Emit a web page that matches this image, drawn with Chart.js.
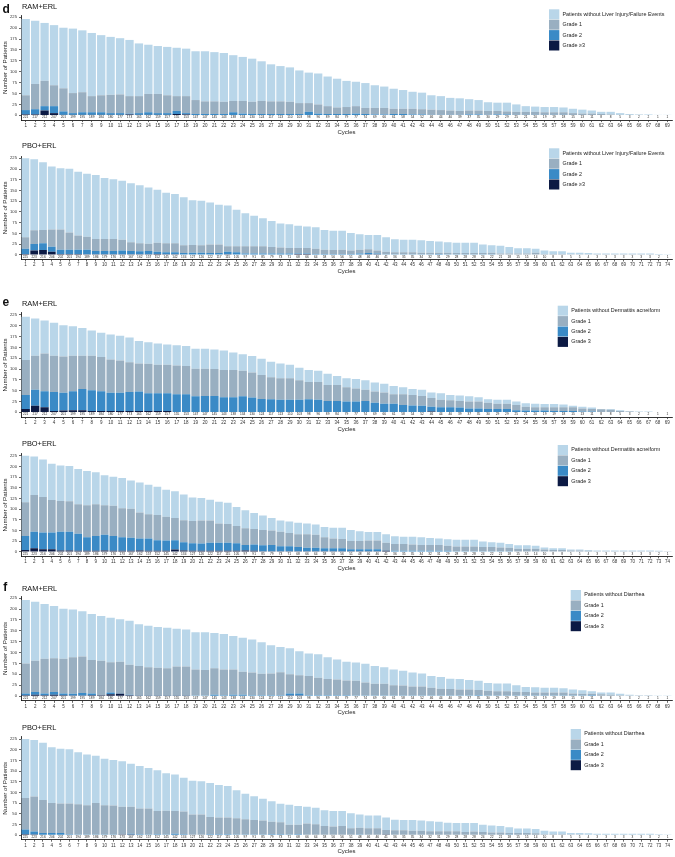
<!DOCTYPE html>
<html>
<head>
<meta charset="utf-8">
<script src="https://cdn.jsdelivr.net/npm/chart.js@4.4.1/dist/chart.umd.min.js"></script>
<style>
  html, body { margin: 0; padding: 0; background: #fff; }
  body { position: relative; width: 675px; height: 857px; overflow: hidden; }
  canvas { position: absolute; left: 0; }
</style>
</head>
<body>
<canvas id="c1"></canvas>
<canvas id="c2"></canvas>
<canvas id="c3"></canvas>
<canvas id="c4"></canvas>
<canvas id="c5"></canvas>
<canvas id="c6"></canvas>
<script>
// cycles on the x axis
const cyclesRam = Array.from({ length: 69 }, (_, i) => String(i + 1));
const cyclesPbo = Array.from({ length: 74 }, (_, i) => String(i + 1));

// patients at risk per cycle (numbers printed under the bars)
const nRam = [221,217,212,207,201,199,195,189,184,180, 177,173,165,162,159,157,155,153,147,147,
  145,143,138,134,130,124,117,113,110,103, 98,96,89,84,79,77,74,69,66,61,
  58,54,52,46,44,40,39,37,35,30, 29,29,25,21,20,19,19,18,15,13, 11,8,8,5,3,2,2,1,1];
const nPbo = [225,223,216,206,202,201,194,189,186,179, 176,173,167,162,157,152,145,142,134,127,
  126,122,117,115,105,97,91,85,79,73, 71,68,66,64,58,56,56,51,48,46,
  46,41,36,35,35,34,32,31,29,28, 28,28,24,22,21,18,15,15,14,10,
  8,8,5,5,4,3,3,3,3,3, 3,3,2,1];

// d: liver injury / failure events
const liverRamG1 = [34,58,58,48,53,46,46,37,39,42, 43,40,39,42,44,41,34,39,32,29,
  29,28,26,29,28,30,29,29,28,25, 20,21,18,15,16,17,14,15,15,12,
  12,13,12,12,11,10,9,9,9,9, 8,7,7,7,7,6,6,6,5,4, 4,3,2,1,1,1,0,0,0];
const liverRamG2 = [10,12,10,16,8,4,6,6,6,4, 4,2,4,6,4,4,7,3,3,3,
  3,3,7,4,3,3,3,3,3,3, 8,4,3,3,3,4,3,2,2,3,
  3,2,2,1,1,1,1,2,2,1, 2,2,1,1,1,1,1,1,0,0, 0,0,0,0,0,0,0,0,0];
const liverRamG3 = [2,2,11,5,1,1,1,1,1,1, 1,2,1,1,1,1,3,2,0,0,
  0,0,0,0,0,0,0,0,0,0, 0,0,0,0,0,0,0,0,0,0,
  0,0,0,0,0,0,0,0,0,0, 0,0,0,0,0,0,0,0,0,0, 0,0,0,0,0,0,0,0,0];
const liverPboG1 = [27,32,31,40,47,40,33,30,28,28, 28,25,20,19,17,21,21,21,18,18,
  17,20,20,13,14,17,17,17,15,14, 13,13,13,12,10,9,10,8,9,9,
  7,6,5,5,5,4,4,3,4,3, 3,3,3,4,3,3,3,3,5,2,
  2,2,1,1,1,1,1,1,1,1, 1,1,0,0];
const liverPboG2 = [12,15,16,12,10,10,10,11,8,8, 8,9,8,7,8,5,5,5,4,5,
  5,4,4,6,6,3,3,3,3,3, 3,1,1,2,2,2,2,2,3,3,
  2,1,1,1,1,1,1,2,1,1, 1,1,1,1,0,0,0,0,0,0,
  0,0,0,0,0,0,0,0,0,0, 0,0,0,0];
const liverPboG3 = [2,10,11,7,2,2,2,1,1,1, 1,1,1,1,1,2,1,1,0,0,
  0,0,0,1,0,0,0,0,0,0, 0,2,2,0,0,0,0,0,0,1,
  1,0,0,0,0,0,0,0,0,0, 0,0,0,0,0,0,0,0,0,0,
  0,0,0,0,0,0,0,0,0,0, 0,0,0,0];

// e: dermatitis acneiform
const dermRamG1 = [81,79,87,84,84,82,77,80,79,77, 75,69,65,68,66,66,66,65,64,63,
  62,63,63,59,58,55,51,50,50,45, 40,41,37,37,33,30,26,26,26,22,
  25,24,23,20,17,16,15,16,16,14, 12,12,12,9,8,8,9,9,9,7, 6,6,5,3,2,1,1,0,0];
const dermRamG2 = [32,37,37,44,41,44,49,48,46,42, 42,44,45,41,41,41,42,42,37,38,
  38,35,35,37,34,31,30,29,29,29, 30,29,26,26,25,25,25,22,20,20,
  17,16,15,11,12,12,11,9,9,8, 8,8,5,4,4,4,3,3,3,2, 2,1,1,0,0,0,0,0,0];
const dermRamG3 = [8,15,12,3,4,5,5,3,3,3, 3,3,3,3,3,3,0,0,0,0,
  0,0,0,0,0,0,0,0,0,0, 0,0,0,0,0,0,1,0,0,0,
  0,0,0,2,0,0,0,0,0,0, 0,0,0,0,0,0,0,0,0,0, 0,0,0,0,0,0,0,0,0];
const dermPboG1 = [79,86,83,76,72,71,69,75,74,69, 71,68,68,61,57,59,56,52,52,52,
  54,52,45,44,40,39,36,36,34,34, 31,30,32,31,26,23,22,19,19,20,
  20,18,16,16,15,14,14,14,12,11, 11,11,10,10,9,8,7,7,7,5,
  4,4,3,3,2,1,1,1,1,1, 1,1,1,1];
const dermPboG2 = [33,39,39,39,44,44,40,32,35,37, 35,32,31,28,29,25,24,22,19,18,
  17,19,19,19,18,13,15,14,15,12, 12,10,8,8,7,7,7,5,5,5,
  5,1,2,2,2,2,2,2,2,1, 1,1,1,1,1,1,0,0,0,0,
  0,0,0,0,0,0,0,0,0,0, 0,0,0,0];
const dermPboG3 = [4,8,6,6,3,3,2,2,2,3, 2,2,2,3,2,2,2,5,3,2,
  2,2,2,2,2,3,2,1,1,1, 1,1,1,1,1,1,1,1,1,1,
  1,2,0,0,0,0,0,0,0,0, 0,0,0,0,0,0,0,0,0,0,
  0,0,0,0,0,0,0,0,0,0, 0,0,0,0];

// f: diarrhea
const diarRamG1 = [69,72,80,78,80,84,84,77,79,70, 73,69,67,64,63,62,66,66,60,59,
  61,59,58,53,52,49,50,53,44,42, 44,40,37,36,34,34,30,27,27,24,
  23,21,21,18,16,15,14,14,12,11, 10,10,9,8,7,7,7,7,5,4, 3,4,3,2,1,1,1,0,0];
const diarRamG2 = [4,6,4,6,4,4,6,4,0,4, 1,1,1,1,1,1,1,1,1,1,
  3,2,3,3,2,2,2,2,5,5, 2,2,2,2,2,1,1,1,1,1,
  1,1,1,1,1,1,1,1,2,1, 1,1,1,1,1,1,1,1,1,1, 2,0,0,0,0,0,0,0,0];
const diarRamG3 = [2,3,2,3,2,1,1,2,2,4, 5,2,1,1,1,1,1,1,0,0,
  0,0,0,0,0,0,0,0,1,1, 0,0,0,0,0,0,0,0,0,0,
  0,0,0,0,0,0,0,0,0,0, 0,0,0,0,0,0,0,0,0,0, 0,0,0,0,0,0,0,0,0];
const diarPboG1 = [74,82,77,70,69,72,71,69,74,69, 68,65,63,60,61,54,56,53,53,48,
  48,40,39,39,38,36,34,33,29,28, 23,22,27,25,21,20,21,16,16,16,
  16,11,11,11,10,10,9,9,9,9, 7,8,7,6,6,4,5,5,4,2,
  2,2,1,1,0,0,0,0,0,0, 0,0,0,0];
const diarPboG2 = [11,7,5,5,5,2,1,1,1,1, 1,0,2,2,1,2,1,3,2,0,
  0,2,2,2,1,1,1,1,2,2, 1,2,0,0,0,0,0,0,1,0,
  0,0,0,0,0,0,0,0,0,0, 0,0,0,0,0,1,0,0,0,0,
  0,0,0,0,0,0,0,0,0,0, 0,0,0,0];
const diarPboG3 = [2,1,0,0,0,0,0,0,0,0, 0,1,1,0,0,0,0,0,0,0,
  0,0,0,0,0,0,0,0,0,0, 0,0,0,0,0,0,0,0,0,0,
  0,1,0,0,0,0,0,0,0,0, 0,0,0,0,0,0,0,0,0,0,
  0,0,0,0,0,0,0,0,0,0, 0,0,0,0];

const FONT = '"Liberation Sans", Arial, Helvetica, sans-serif';
const COLORS = { without: '#b9d6e9', g1: '#99afc1', g2: '#3a8ac6', g3: '#0c1a44' };

// page layout of the six panels (absolute page pixels)
const panels = [
  { id: 'c1', arm: 'RAM+ERL', letter: 'd', cycles: cyclesRam, n: nRam, g1: liverRamG1, g2: liverRamG2, g3: liverRamG3,
    withoutLabel: 'Patients without Liver Injury/Failure Events', g3Label: 'Grade \u22653',
    chartTop: 15.1, chartBottom: 120.1, titleY: 7, letterX: 2.5, letterY: 13.3, legendX: 549, legendY: 9.3 },
  { id: 'c2', arm: 'PBO+ERL', letter: '', cycles: cyclesPbo, n: nPbo, g1: liverPboG1, g2: liverPboG2, g3: liverPboG3,
    withoutLabel: 'Patients without Liver Injury/Failure Events', g3Label: 'Grade \u22653',
    chartTop: 156.2, chartBottom: 259.5, titleY: 146.3, legendX: 549, legendY: 148.3 },
  { id: 'c3', arm: 'RAM+ERL', letter: 'e', cycles: cyclesRam, n: nRam, g1: dermRamG1, g2: dermRamG2, g3: dermRamG3,
    withoutLabel: 'Patients without Dermatitis acneiform', g3Label: 'Grade 3',
    chartTop: 312.8, chartBottom: 417.1, titleY: 304, letterX: 2.5, letterY: 305.7, legendX: 557.7, legendY: 305.7 },
  { id: 'c4', arm: 'PBO+ERL', letter: '', cycles: cyclesPbo, n: nPbo, g1: dermPboG1, g2: dermPboG2, g3: dermPboG3,
    withoutLabel: 'Patients without Dermatitis acneiform', g3Label: 'Grade 3',
    chartTop: 453.6, chartBottom: 556.4, titleY: 443.5, legendX: 557.7, legendY: 445 },
  { id: 'c5', arm: 'RAM+ERL', letter: 'f', cycles: cyclesRam, n: nRam, g1: diarRamG1, g2: diarRamG2, g3: diarRamG3,
    withoutLabel: 'Patients without Diarrhea', g3Label: 'Grade 3',
    chartTop: 596.1, chartBottom: 700.8, titleY: 588.7, letterX: 3.3, letterY: 590.7, legendX: 570.7, legendY: 590 },
  { id: 'c6', arm: 'PBO+ERL', letter: '', cycles: cyclesPbo, n: nPbo, g1: diarPboG1, g2: diarPboG2, g3: diarPboG3,
    withoutLabel: 'Patients without Diarrhea', g3Label: 'Grade 3',
    chartTop: 736.9, chartBottom: 839.7, titleY: 727.5, legendX: 570.7, legendY: 729 }
];

const X_AXIS_H = 18;

function decorPlugin(p, top) {
  return {
    id: 'decor',
    afterDraw: function (chart) {
      const ctx = chart.ctx;
      ctx.save();
      ctx.fillStyle = '#111';
      ctx.textBaseline = 'middle';
      ctx.textAlign = 'left';
      ctx.font = '7.4px ' + FONT;
      ctx.fillText(p.arm, 22, p.titleY - top);
      if (p.letter) {
        ctx.font = 'bold 12px ' + FONT;
        ctx.textBaseline = 'alphabetic';
        ctx.fillText(p.letter, p.letterX, p.letterY - top);
      }
      // legend, top item first
      const items = chart.data.datasets.slice().reverse();
      ctx.font = '5.4px ' + FONT;
      ctx.textBaseline = 'middle';
      items.forEach(function (ds, i) {
        const y = p.legendY - top + i * 10.4;
        ctx.fillStyle = ds.backgroundColor;
        ctx.fillRect(p.legendX, y, 10.3, 10);
        ctx.fillStyle = '#222';
        ctx.fillText(ds.label, p.legendX + 13.5, y + 5);
      });
      ctx.restore();
    }
  };
}

function atRiskPlugin(p) {
  return {
    id: 'atRisk',
    afterDatasetsDraw: function (chart) {
      const ctx = chart.ctx;
      const x = chart.scales.x, y = chart.scales.y;
      ctx.save();
      ctx.fillStyle = '#222';
      ctx.font = '3.2px ' + FONT;
      ctx.textAlign = 'center';
      ctx.textBaseline = 'middle';
      p.n.forEach(function (v, i) {
        ctx.fillText(String(v), x.getPixelForValue(i), y.getPixelForValue(-5));
      });
      ctx.restore();
    }
  };
}

function makeChart(p) {
  const canvas = document.getElementById(p.id);
  const top = Math.floor(p.chartTop - 16);
  const h = Math.ceil(p.chartBottom + X_AXIS_H - top);
  canvas.width = 675;
  canvas.height = h;
  canvas.style.top = top + 'px';
  canvas.style.width = '675px';
  canvas.style.height = h + 'px';

  const without = p.n.map(function (v, i) { return v - p.g1[i] - p.g2[i] - p.g3[i]; });

  return new Chart(canvas, {
    type: 'bar',
    data: {
      labels: p.cycles,
      datasets: [
        { label: p.g3Label, data: p.g3, backgroundColor: COLORS.g3 },
        { label: 'Grade 2', data: p.g2, backgroundColor: COLORS.g2 },
        { label: 'Grade 1', data: p.g1, backgroundColor: COLORS.g1 },
        { label: p.withoutLabel, data: without, backgroundColor: COLORS.without }
      ]
    },
    options: {
      responsive: false,
      animation: false,
      devicePixelRatio: 1,
      events: [],
      datasets: { bar: { barPercentage: 0.88, categoryPercentage: 1, borderWidth: 0 } },
      layout: { padding: { top: p.chartTop - top, bottom: top + h - X_AXIS_H - p.chartBottom, left: 0, right: 3 } },
      plugins: { legend: { display: false }, tooltip: { enabled: false }, title: { display: false } },
      scales: {
        x: {
          stacked: true,
          afterFit: function (s) { s.height = X_AXIS_H; },
          ticks: { autoSkip: false, maxRotation: 0, minRotation: 0, padding: 1,
                   font: { size: 4.5, family: FONT }, color: '#333' },
          grid: { drawOnChartArea: false, offset: false, tickLength: 2, color: '#000', lineWidth: 0.6 },
          border: { color: '#000', width: 0.8 },
          title: { display: true, text: 'Cycles', color: '#222', font: { size: 6, family: FONT },
                   padding: { top: 0, bottom: 2.4 } }
        },
        y: {
          stacked: true,
          min: -11,
          max: 230,
          afterFit: function (s) { s.width = 21; },
          afterBuildTicks: function (s) {
            s.ticks = s.ticks.filter(function (t) { return t.value >= 0 && t.value % 25 === 0; });
          },
          ticks: { stepSize: 25, includeBounds: false, padding: 2,
                   font: { size: 4.2, family: FONT }, color: '#333' },
          grid: { drawOnChartArea: false, tickLength: 2, color: '#000', lineWidth: 0.6 },
          border: { color: '#000', width: 0.8 },
          title: { display: true, text: 'Number of Patients', color: '#222', font: { size: 6.2, family: FONT },
                   padding: { top: 1.4, bottom: 0 } }
        }
      }
    },
    plugins: [atRiskPlugin(p), decorPlugin(p, top)]
  });
}

panels.forEach(makeChart);
</script>
</body>
</html>
